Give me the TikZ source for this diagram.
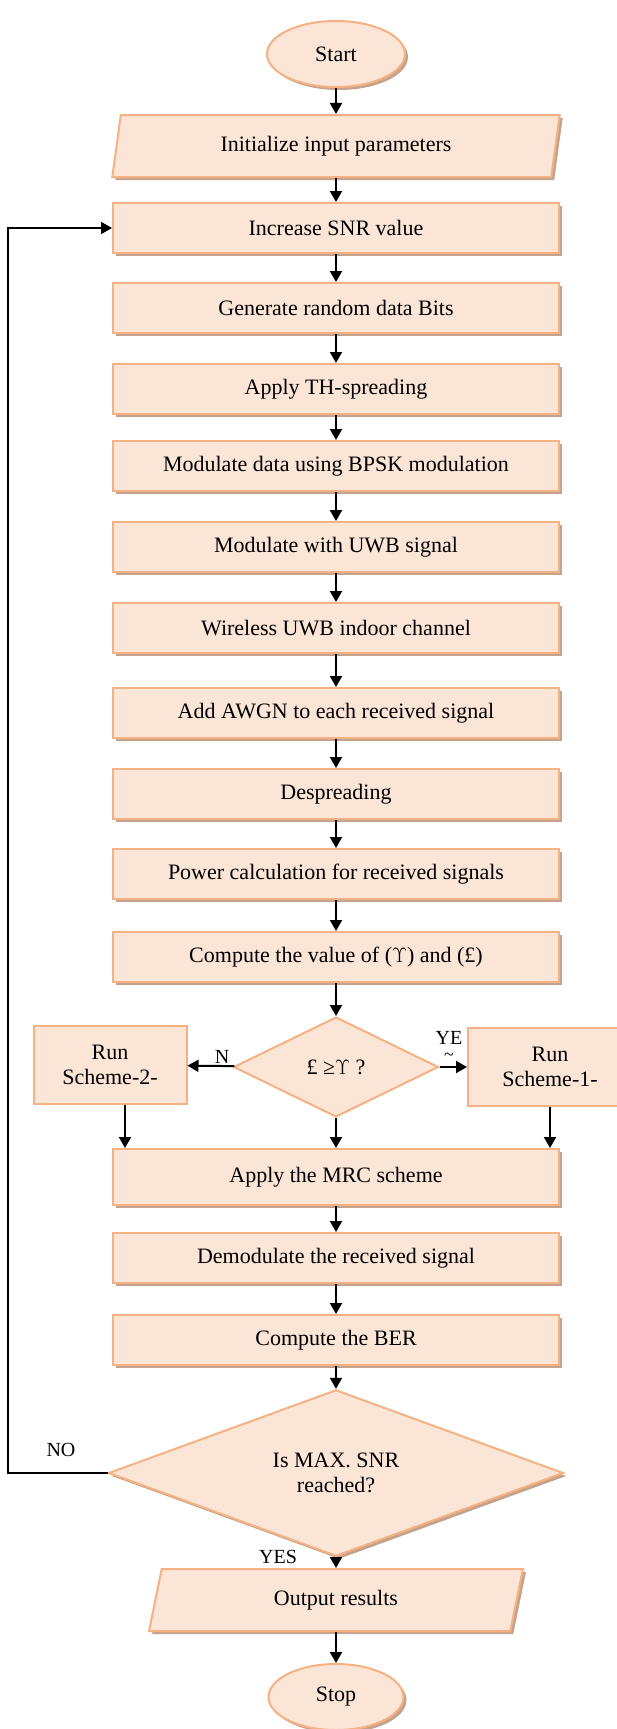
\documentclass[tikz,border=0pt]{standalone}
\usepackage{fontspec}
\setmainfont{Liberation Serif}
\usetikzlibrary{shapes.geometric,arrows.meta,shadows}
\definecolor{boxfill}{RGB}{251,229,214}
\definecolor{boxline}{RGB}{244,177,131}
\definecolor{boxshade}{RGB}{196,162,140}

\begin{document}
\begin{tikzpicture}[x=1pt, y=-1pt, font=\fontsize{22}{25}\selectfont,
    boxshadow/.style={drop shadow={shadow xshift=3pt, shadow yshift=-3pt, fill=boxshade, opacity=1}},
    base/.style={draw=boxline, line width=2pt, fill=boxfill, inner sep=2pt, align=center},
    proc/.style={base, boxshadow, rectangle, minimum width=446pt, minimum height=50pt},
    term/.style={base, boxshadow, ellipse, minimum width=138pt, minimum height=66pt},
    io/.style={base, boxshadow, trapezium, trapezium left angle=79, trapezium right angle=101,
        trapezium stretches=true, minimum height=62pt},
    decision/.style={base, diamond, inner sep=0pt},
    side/.style={base, rectangle, minimum height=78pt},
    flow/.style={line width=2pt, -{Triangle[length=11pt, width=12pt]}},
    tag/.style={inner sep=0pt, font=\fontsize{20}{22}\selectfont}]

    \useasboundingbox (0,0) rectangle (616,1729);

    \node[term] (start) at (336,54) {Start};
    \node[io, minimum width=448pt] (init) at (336,146) {Initialize input parameters};
    \node[proc] (inc) at (336,228) {Increase SNR value};
    \node[proc] (gen) at (336,308) {Generate random data Bits};
    \node[proc] (th) at (336,389) {Apply TH-spreading};
    \node[proc] (bpsk) at (336,466) {Modulate data using BPSK modulation};
    \node[proc] (uwb) at (336,547) {Modulate with UWB signal};
    \node[proc] (chan) at (336,628) {Wireless UWB indoor channel};
    \node[proc] (awgn) at (336,713) {Add AWGN to each received signal};
    \node[proc] (desp) at (336,794) {Despreading};
    \node[proc] (pow) at (336,874) {Power calculation for received signals};
    \node[proc] (comp) at (336,957) {Compute the value of ($\Upsilon$) and (£)};

    \node[decision, minimum width=205pt, minimum height=100pt] (cmp) at (336,1067) {£ ≥$\Upsilon$ ?};
    \node[side, minimum width=153pt] (run2) at (110,1065) {Run\\Scheme-2-};
    \node[side, minimum width=164pt] (run1) at (550,1067) {Run\\Scheme-1-};

    \node[proc, minimum height=56pt] (mrc) at (336,1177) {Apply the MRC scheme};
    \node[proc] (demod) at (336,1258) {Demodulate the received signal};
    \node[proc] (ber) at (336,1340) {Compute the BER};
    \node[decision, boxshadow, minimum width=455pt, minimum height=141pt] (maxsnr) at (336,1473) {Is MAX. SNR\\reached?};
    \node[io, minimum width=374pt] (out) at (336,1600) {Output results};
    \node[term, minimum width=135pt] (stop) at (336,1697) {Stop};

    \node[tag] (n) at (222,1057) {N};
    \node[tag] (ye) at (449,1038) {YE};
    \node[tag, font=\fontsize{18}{18}\selectfont] (yetail) at (449,1057) {\textasciitilde};
    \node[tag] (no) at (61,1450) {NO};
    \node[tag] (yes) at (278,1557) {YES};

    \coordinate (loopbot) at (8,1473);
    \coordinate (looptop) at (8,228);

    \draw[flow] (start) -- (init);
    \draw[flow] (init) -- (inc);
    \draw[flow] (inc) -- (gen);
    \draw[flow] (gen) -- (th);
    \draw[flow] (th) -- (bpsk);
    \draw[flow] (bpsk) -- (uwb);
    \draw[flow] (uwb) -- (chan);
    \draw[flow] (chan) -- (awgn);
    \draw[flow] (awgn) -- (desp);
    \draw[flow] (desp) -- (pow);
    \draw[flow] (pow) -- (comp);
    \draw[flow] (comp) -- (cmp);
    \draw[flow] (cmp) -- (run2);
    \draw[flow] (cmp) -- (run1);
    \draw[flow] (cmp) -- (mrc);
    \draw[flow] ([xshift=15pt]run2.south) -- ([xshift=15pt]run2.south |- mrc.north);
    \draw[flow] (run1.south) -- (run1.south |- mrc.north);
    \draw[flow] (mrc) -- (demod);
    \draw[flow] (demod) -- (ber);
    \draw[flow] (ber) -- (maxsnr);
    \draw[flow] (maxsnr) -- (out);
    \draw[flow] (out) -- (stop);
    \draw[flow, line width=1.5pt] (maxsnr.west) -- (loopbot) -- (looptop) -- (inc.west);
\end{tikzpicture}
\end{document}
